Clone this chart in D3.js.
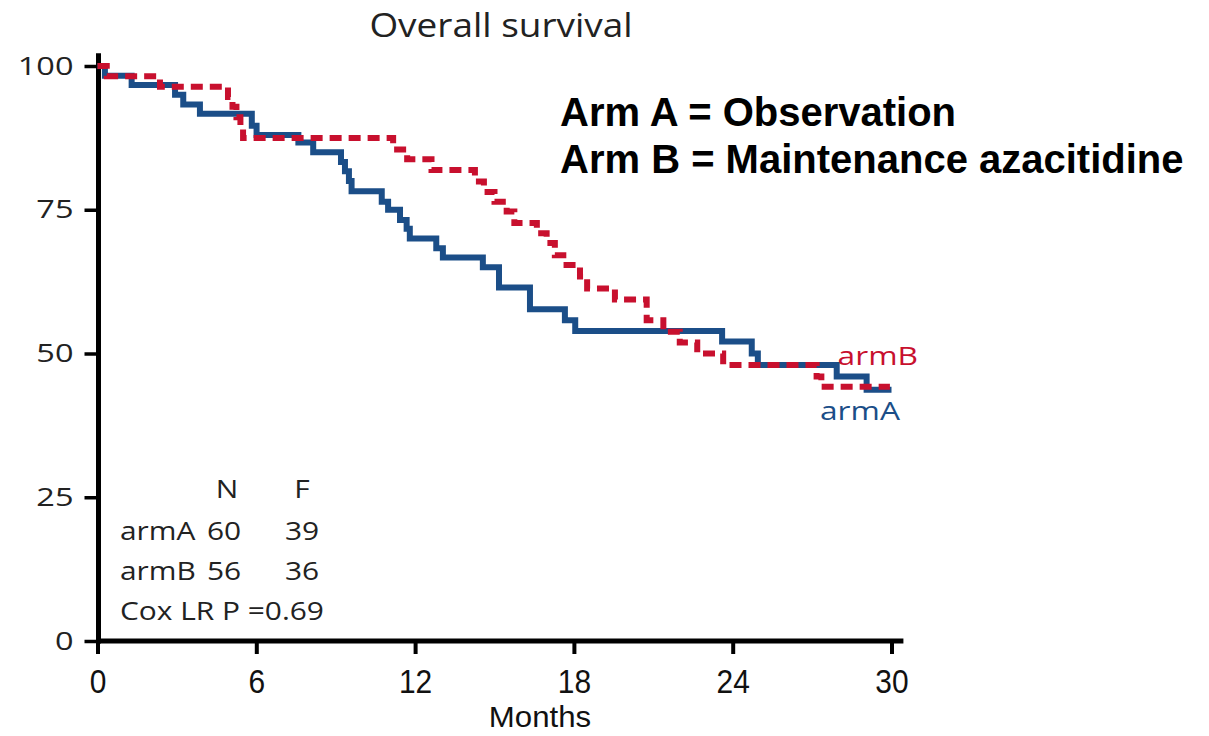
<!DOCTYPE html>
<html>
<head>
<meta charset="utf-8">
<script src="https://cdn.jsdelivr.net/npm/d3@7"></script>
<style>
  html, body { margin: 0; padding: 0; background: #fff; }
  svg { display: block; }
</style>
</head>
<body>
<svg width="1209" height="736"></svg>
<script>
// ---- data ----
const xTicks = [0, 6, 12, 18, 24, 30];
const yTicks = [0, 25, 50, 75, 100];

// arm A (observation) - step times (months) and survival (%)
const armATime = [0, 0.28, 1.29, 2.93, 3.24, 3.87, 5.83, 6.01, 7.59, 8.15, 9.2, 9.35, 9.5, 9.6,
  10.74, 10.98, 11.43, 11.68, 11.8, 12.8, 13.05, 14.56, 15.17, 16.34, 17.66, 18.05,
  23.6, 24.72, 24.95, 27.93, 29.06, 30.0];
const armASurv = [100, 98.3, 96.7, 95.0, 93.3, 91.7, 89.6, 88.0, 86.7, 85.0, 83.3, 81.7, 80.0, 78.2,
  76.4, 75.0, 73.2, 71.7, 70.0, 68.3, 66.7, 65.0, 61.5, 57.7, 55.8, 53.9,
  52.1, 50.0, 48.0, 46.0, 43.7, 43.7];

// arm B (maintenance azacitidine)
const armBTime = [0, 0.35, 2.36, 4.93, 5.1, 5.25, 5.4, 5.5, 11.17, 11.7, 12.62, 14.26, 14.6, 15.0,
  15.46, 15.75, 16.6, 16.97, 17.28, 17.6, 18.23, 18.5, 19.55, 20.75, 21.38, 22.0,
  22.66, 23.64, 27.17, 27.35, 29.94];
const armBSurv = [100, 98.2, 96.4, 94.6, 92.9, 91.1, 89.3, 87.5, 85.5, 83.8, 81.9, 79.9, 78.1, 76.4,
  74.7, 72.7, 70.9, 69.2, 67.1, 65.4, 63.4, 61.3, 59.4, 55.8, 53.8, 51.9,
  50.0, 48.0, 46.0, 44.2, 44.2];

const tableHead = ["N", "F"];
const tableArms = ["armA", "armB"];
const tableN = [60, 56];
const tableF = [39, 36];
const pText = "Cox LR P =0.69";

const BLUE = "#1b4e88";
const RED = "#c8102e";
const softFont = "'Open Sans', 'Noto Sans', sans-serif";
const plainFont = "'Liberation Sans', Arial, sans-serif";

const svg = d3.select("svg");

// text helper: the original picture is stretched sideways, so allow a horizontal scale
function label(parent, px, py, str, o) {
  return parent.append("text")
    .attr("transform", `translate(${px},${py}) scale(${o.sx || 1},1)`)
    .attr("text-anchor", o.anchor || "start")
    .style("font-family", o.family || softFont)
    .style("font-size", o.size + "px")
    .style("font-weight", o.weight || "normal")
    .attr("fill", o.fill || "#222")
    .text(str);
}

// ---- scales ----
const x = d3.scaleLinear().domain([0, 30]).range([97.5, 891.5]);
const y = d3.scaleLinear().domain([0, 100]).range([641, 66]);

// ---- axes ----
const xAxis = svg.append("g")
  .attr("transform", `translate(0,${y(0)})`)
  .call(d3.axisBottom(x).tickValues(xTicks).tickSize(13).tickPadding(15).tickSizeOuter(0));
xAxis.select(".domain").remove();
xAxis.selectAll(".tick line").attr("stroke", "#000").attr("stroke-width", 4);
xAxis.selectAll(".tick text")
  .style("font-family", plainFont)
  .style("font-size", "34px")
  .attr("fill", "#111")
  .attr("transform", "scale(0.88,1)");

const yAxis = svg.append("g")
  .attr("transform", `translate(${x(0) + 1},0)`)
  .call(d3.axisLeft(y).tickValues(yTicks).tickSize(14).tickPadding(8).tickSizeOuter(0));
yAxis.select(".domain").remove();
yAxis.selectAll(".tick line").attr("stroke", "#000").attr("stroke-width", 3.5);
yAxis.selectAll(".tick text")
  .attr("x", 0)
  .attr("transform", "translate(-25,0) scale(1.3,1)")
  .style("font-family", softFont)
  .style("font-size", "25px")
  .attr("fill", "#222");

// axis lines (drawn a bit beyond the data range, as in the original)
svg.append("line")
  .attr("x1", x(0) + 1).attr("x2", x(0) + 1)
  .attr("y1", y(102.2)).attr("y2", y(0) + 2.5)
  .attr("stroke", "#000").attr("stroke-width", 5);
svg.append("line")
  .attr("x1", x(0) - 1.5).attr("x2", x(30.45))
  .attr("y1", y(0)).attr("y2", y(0))
  .attr("stroke", "#000").attr("stroke-width", 5);

// ---- survival curves ----
const step = d3.line()
  .x(d => x(d[0]))
  .y(d => y(d[1]))
  .curve(d3.curveStepAfter);

svg.append("path")
  .datum(d3.zip(armATime, armASurv))
  .attr("d", step)
  .attr("fill", "none")
  .attr("stroke", BLUE)
  .attr("stroke-width", 6);

svg.append("path")
  .datum(d3.zip(armBTime, armBSurv))
  .attr("d", step)
  .attr("fill", "none")
  .attr("stroke", RED)
  .attr("stroke-width", 6)
  .attr("stroke-dasharray", "12,7");

// ---- curve labels ----
label(svg, 918, 365, "armB", { size: 26, sx: 1.22, anchor: "end", fill: RED });
label(svg, 900, 420, "armA", { size: 26, sx: 1.22, anchor: "end", fill: BLUE });

// ---- title ----
label(svg, 501, 37, "Overall survival", { size: 33, sx: 1.12, anchor: "middle" });

// ---- arm legend ----
label(svg, 560, 126, "Arm A = Observation", { size: 40, family: plainFont, weight: "bold", fill: "#000" });
label(svg, 560, 173, "Arm B = Maintenance azacitidine", { size: 40, family: plainFont, weight: "bold", fill: "#000" });

// ---- N / F table ----
const tbl = svg.append("g");
const tOpt = { size: 26, sx: 1.15 };
label(tbl, 227, 498, tableHead[0], { ...tOpt, anchor: "middle" });
label(tbl, 302, 498, tableHead[1], { ...tOpt, anchor: "middle" });
tableArms.forEach((arm, i) => {
  const yy = 540 + i * 40;
  label(tbl, 120, yy, arm, tOpt);
  label(tbl, 224, yy, tableN[i], { ...tOpt, anchor: "middle" });
  label(tbl, 302, yy, tableF[i], { ...tOpt, anchor: "middle" });
});
label(tbl, 120, 620, pText, tOpt);

// ---- x axis title ----
label(svg, 540, 727, "Months", { size: 30, sx: 1.04, anchor: "middle", family: plainFont, fill: "#111" });
</script>
</body>
</html>
